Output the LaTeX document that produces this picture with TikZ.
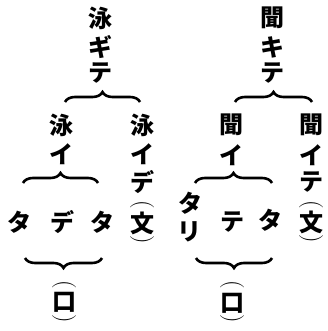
\documentclass[tikz,border=0pt]{standalone}
\usepackage{fontspec}
\newfontfamily\jpfont{Noto Sans CJK JP}
\usetikzlibrary{decorations.pathreplacing}
\tikzset{every picture/.style={semithick}}
\tikzset{
  kana/.style={font=\jpfont\bfseries\fontsize{24}{24}\selectfont, inner sep=0pt},
  paren/.style={font=\fontsize{24}{24}\selectfont, inner sep=0pt, rotate=-90},
  curly/.style={decorate, decoration={brace, amplitude=10pt}, line width=2.6pt},
}
\begin{document}
\begin{tikzpicture}[x=1pt,y=-1pt]
    \useasboundingbox (0,0) rectangle (327,331);
    % left tree
    \node[kana] (l0a) at (100,18) {泳};
    \node[kana] (l0b) at (100,47) {ギ};
    \node[kana] (l0c) at (100,73) {テ};
    \node[kana] (l1a) at (61,125) {泳};
    \node[kana] (l1b) at (61,154) {イ};
    \node[kana] (l2a) at (142,125) {泳};
    \node[kana] (l2b) at (142,154) {イ};
    \node[kana] (l2c) at (142,182) {デ};
    \node[paren] (l2d) at (142,205) {(};
    \node[kana] (l2e) at (142,223) {文};
    \node[paren] (l2f) at (142,240) {)};
    \node[kana] (l3a) at (19,222) {タ};
    \node[kana] (l3b) at (62,222) {デ};
    \node[kana] (l3c) at (102,222) {タ};
    \node[paren] (l4a) at (64,285) {(};
    \node[kana] (l4b) at (64,302) {口};
    \node[paren] (l4c) at (64,319) {)};
    \coordinate (bl0w) at (65,102);
    \coordinate (bl0e) at (140,102);
    \coordinate (bl1w) at (23,183);
    \coordinate (bl1e) at (98,183);
    \coordinate (bl3w) at (25,258);
    \coordinate (bl3e) at (102,258);
    \draw[curly] (bl0w) -- (bl0e);
    \draw[curly] (bl1w) -- (bl1e);
    \draw[curly] (bl3e) -- (bl3w);

    % right tree
    \node[kana] (r0a) at (272,18) {聞};
    \node[kana] (r0b) at (272,47) {キ};
    \node[kana] (r0c) at (272,73) {テ};
    \node[kana] (r1a) at (231,125) {聞};
    \node[kana] (r1b) at (231,155) {イ};
    \node[kana] (r2a) at (311,125) {聞};
    \node[kana] (r2b) at (311,155) {イ};
    \node[kana] (r2c) at (311,182) {テ};
    \node[paren] (r2d) at (311,205) {(};
    \node[kana] (r2e) at (311,222) {文};
    \node[paren] (r2f) at (311,239) {)};
    \node[kana] (r3a) at (190,203) {タ};
    \node[kana] (r3b) at (189,232) {リ};
    \node[kana] (r3c) at (232,222) {テ};
    \node[kana] (r3d) at (270,220) {タ};
    \node[paren] (r4a) at (232,285) {(};
    \node[kana] (r4b) at (232,303) {口};
    \node[paren] (r4c) at (232,319) {)};
    \coordinate (br0w) at (235,102);
    \coordinate (br0e) at (312,102);
    \coordinate (br1w) at (195,183);
    \coordinate (br1e) at (272,183);
    \coordinate (br3w) at (196,258);
    \coordinate (br3e) at (272,258);
    \draw[curly] (br0w) -- (br0e);
    \draw[curly] (br1w) -- (br1e);
    \draw[curly] (br3e) -- (br3w);
\end{tikzpicture}
\end{document}
